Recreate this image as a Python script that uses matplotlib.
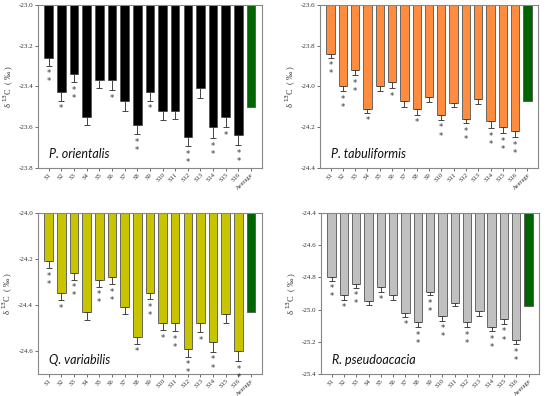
import numpy as np
import matplotlib
matplotlib.use("Agg")
import matplotlib.pyplot as plt

labels = ["S%d" % i for i in range(1, 17)] + ["Average"]

# P. orientalis
po_vals = [-23.26, -23.43, -23.34, -23.55, -23.37, -23.37, -23.47, -23.59, -23.43,
           -23.52, -23.52, -23.65, -23.41, -23.60, -23.55, -23.64, -23.50]
po_err = [0.04, 0.04, 0.04, 0.04, 0.04, 0.05, 0.05, 0.045, 0.04,
          0.045, 0.04, 0.045, 0.045, 0.055, 0.05, 0.05, 0]
po_stars = [2, 1, 2, 0, 0, 1, 0, 2, 1, 0, 0, 2, 0, 2, 1, 2, 0]

# P. tabuliformis
pt_vals = [-23.84, -24.00, -23.92, -24.11, -24.00, -23.98, -24.07, -24.11, -24.05,
           -24.14, -24.08, -24.16, -24.06, -24.17, -24.20, -24.22, -24.07]
pt_err = [0.02, 0.025, 0.025, 0.02, 0.025, 0.03, 0.03, 0.03, 0.025,
          0.025, 0.02, 0.02, 0.025, 0.035, 0.03, 0.03, 0]
pt_stars = [2, 2, 2, 1, 0, 1, 0, 1, 0, 2, 0, 2, 0, 2, 2, 2, 0]

# Q. variabilis
qv_vals = [-24.21, -24.35, -24.26, -24.43, -24.29, -24.28, -24.41, -24.54, -24.35,
           -24.48, -24.48, -24.59, -24.48, -24.56, -24.44, -24.60, -24.43]
qv_err = [0.03, 0.03, 0.03, 0.035, 0.03, 0.03, 0.03, 0.03, 0.025,
          0.03, 0.035, 0.035, 0.04, 0.045, 0.04, 0.045, 0]
qv_stars = [2, 1, 2, 0, 2, 2, 0, 1, 2, 1, 2, 2, 1, 2, 0, 2, 0]

# R. pseudoacacia
rp_vals = [-24.80, -24.91, -24.84, -24.95, -24.86, -24.91, -25.02, -25.08, -24.89,
           -25.04, -24.96, -25.08, -25.01, -25.11, -25.06, -25.19, -24.98]
rp_err = [0.02, 0.03, 0.025, 0.02, 0.03, 0.03, 0.025, 0.03, 0.02,
          0.03, 0.02, 0.03, 0.03, 0.025, 0.03, 0.025, 0]
rp_stars = [2, 1, 2, 0, 1, 0, 1, 2, 2, 2, 0, 2, 0, 2, 2, 2, 0]

panels = [
    ("P. orientalis", po_vals, po_err, po_stars, "#000000", (-23.8, -23.0), np.arange(-23.8, -22.99, 0.2),
     [0.069, 0.576, 0.407, 0.412]),
    ("P. tabuliformis", pt_vals, pt_err, pt_stars, "#ff8c3f", (-24.4, -23.6), np.arange(-24.4, -23.59, 0.2),
     [0.582, 0.576, 0.396, 0.412]),
    ("Q. variabilis", qv_vals, qv_err, qv_stars, "#c8c400", (-24.7, -24.0), np.arange(-24.6, -23.99, 0.2),
     [0.069, 0.056, 0.407, 0.406]),
    ("R. pseudoacacia", rp_vals, rp_err, rp_stars, "#c0c0c0", (-25.4, -24.4), np.arange(-25.4, -24.39, 0.2),
     [0.584, 0.056, 0.396, 0.406]),
]

fig = plt.figure(figsize=(5.5, 3.96), dpi=100)
x = np.arange(len(labels))

for name, vals, err, stars, color, ylim, yticks, pos in panels:
    ax = fig.add_axes(pos)
    top = ylim[1]
    vals = np.array(vals)
    colors = [color] * 16 + ["#006400"]
    ax.bar(x, vals - top, bottom=top, width=0.68, color=colors,
           edgecolor="#555555", linewidth=0.6, zorder=2)
    err = np.array(err)
    m = err > 0
    ax.errorbar(x[m], vals[m], yerr=[err[m], np.zeros(m.sum())], fmt="none",
                ecolor="#444444", elinewidth=0.7, capsize=2, capthick=0.7, zorder=3)
    for xi, v, e, n in zip(x, vals, err, stars):
        for k in range(n):
            ax.annotate("*", (xi, v - e), xytext=(0, -2.5 - 5.8 * k), textcoords="offset points",
                        ha="center", va="top", fontsize=6, color="#333333")
    ax.set_xlim(-0.85, 16.85)
    ax.set_ylim(*ylim)
    ax.set_yticks(yticks)
    ax.set_yticklabels(["%.1f" % t for t in yticks], family="Liberation Serif", fontsize=5)
    ax.set_xticks(x)
    ax.set_xticklabels(labels, rotation=45, ha="right", rotation_mode="anchor",
                       family="Liberation Serif", fontsize=4.7)
    ax.tick_params(axis="both", length=2, width=0.6, color="#555555", pad=1.5, labelcolor="#333333")
    ax.tick_params(axis="x", pad=1)
    for s in ax.spines.values():
        s.set_color("#888888")
        s.set_linewidth(0.8)
    ax.set_ylabel("δ $^{13}$C  ( ‰ )", family="Liberation Serif", fontsize=6, color="#333333", labelpad=2)
    ax.text(0.05, 0.085, name, transform=ax.transAxes, family="Lato", style="italic",
            fontsize=9, color="#111111", va="center")

fig.savefig("out.png", dpi=100)
